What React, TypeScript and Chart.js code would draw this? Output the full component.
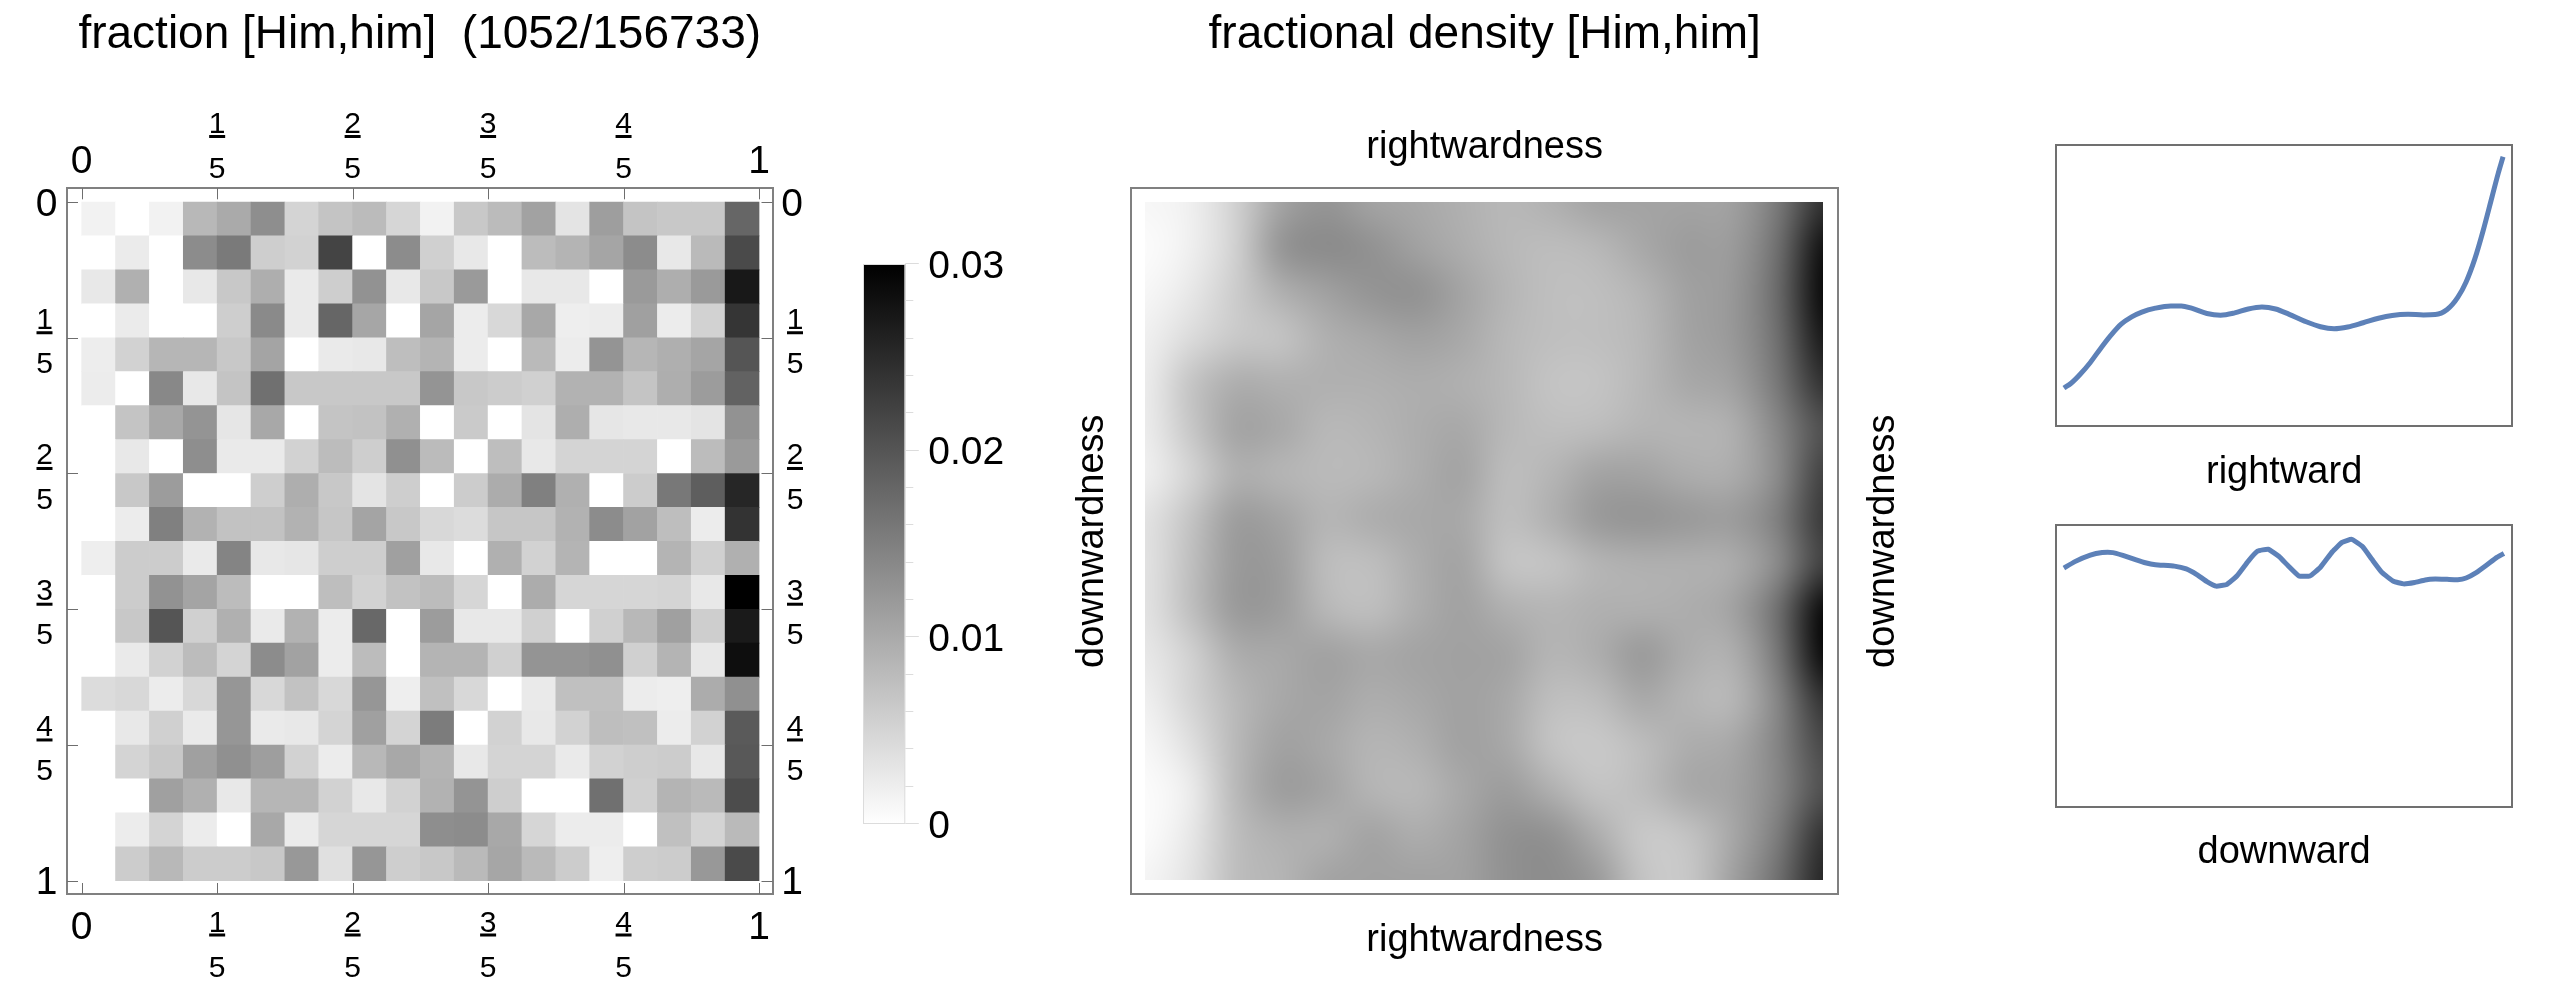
import { useEffect, useRef } from "react";
import { Chart, registerables } from "chart.js";

Chart.register(...registerables);

const FONT = "'Liberation Sans', Arial, sans-serif";

// fraction per cell, in thousandths, row by row from the top
const cellRows = [
  [1.5, 0, 1.5, 8.4, 10, 13.3, 5.1, 6.9, 8, 4.8, 1.5, 6.5, 8, 10.9, 3.2, 11.4, 6.9, 6.5, 6.5, 18],
  [0, 2.4, 0, 13.5, 15.6, 5.8, 5.3, 22, 0, 13.5, 5.5, 2.7, 0, 7.9, 8.8, 10.6, 13.5, 2.7, 8.1, 21.3],
  [2.7, 9.3, 0, 2.7, 6.5, 9.5, 2.5, 5.8, 12.8, 2.7, 6.5, 11.9, 0, 2.7, 2.7, 0, 11.9, 9.5, 11.9, 27.2],
  [0, 2.4, 0, 0, 5.8, 13.8, 2.5, 18, 10.5, 0, 10.6, 2.2, 4.6, 10.2, 2, 2.2, 11.2, 2.2, 5.3, 23.8],
  [2.1, 5.3, 8.6, 8.6, 6.5, 10.7, 0, 2.5, 2.7, 7.6, 8.8, 2.2, 0, 8.1, 2.2, 12.6, 8.6, 9.4, 10.6, 20],
  [2.2, 0, 14, 2.7, 6.9, 16.8, 6.5, 6.5, 6.5, 6.5, 12.6, 6.5, 6, 5.5, 9.1, 9.1, 6.9, 9.5, 11.6, 18.5],
  [0, 6.9, 10.2, 12.6, 2.9, 10.2, 0, 6.9, 7.2, 9.3, 0, 6.2, 0, 3.2, 9.5, 2.9, 2.7, 2.7, 3.2, 12.8],
  [0, 2.7, 0, 13.3, 2.5, 2.5, 5.3, 7.9, 5.8, 13.1, 8, 0, 7.6, 2.7, 5.1, 5.1, 5.1, 0, 7.9, 11.9],
  [0, 6.5, 11.6, 0, 0, 5.8, 9.5, 6.5, 3.2, 5.8, 0, 6, 9.8, 14.9, 9.3, 0, 6, 15.9, 18.9, 25.5],
  [0, 2.2, 14.9, 9.1, 7.2, 7.2, 9.1, 6.7, 10.7, 6.5, 4.6, 4.1, 6.7, 6.7, 9.1, 13.5, 10.9, 7.6, 2.2, 24],
  [2, 6, 6, 2.5, 14.5, 2.7, 2.9, 5.8, 5.8, 11.2, 2.7, 0, 9.3, 5.3, 8.8, 0, 0, 8.8, 5.5, 9.3],
  [0, 6, 12.8, 10.7, 7.9, 0, 0, 7.6, 5.3, 7.2, 7.9, 4.8, 0, 9.8, 4.8, 4.8, 4.8, 5.1, 2.7, 30],
  [0, 6.5, 20, 5.5, 9.3, 2.5, 9.1, 2.2, 17.8, 0, 11.6, 2.7, 2.7, 5.5, 0, 5.5, 8.4, 11.2, 5.8, 26.9],
  [0, 2.5, 5.3, 7.9, 5.1, 13.5, 10.9, 2.2, 7.9, 0, 8.8, 8.8, 5.5, 12.6, 12.6, 13.1, 5.5, 8.8, 2.7, 28.4],
  [4.1, 4.6, 2.2, 4.6, 12.4, 4.6, 7.2, 4.6, 12.4, 2, 7.4, 4.6, 0, 2.5, 7.4, 7.4, 2.2, 2, 9.8, 13.1],
  [0, 2.7, 5.5, 2.5, 12.4, 2.5, 2.7, 5.1, 11.2, 5.1, 15.4, 0, 5.3, 2.7, 5.3, 7.6, 7.4, 2.2, 5.3, 19.4],
  [0, 5.1, 6.5, 11.2, 13.1, 11.4, 5.3, 2.2, 8.4, 10.2, 8.8, 2.7, 5.1, 5.1, 2.5, 5.3, 5.8, 6, 2.7, 19.6],
  [0, 0, 11.2, 9.3, 2.7, 8.6, 8.6, 5.3, 2.7, 5.3, 9.1, 12.6, 5.8, 0, 0, 16.8, 5.5, 8.8, 8.1, 21.1],
  [0, 2.2, 5.1, 2.2, 0, 10.2, 2.4, 4.8, 4.8, 4.8, 13.3, 13.5, 10.2, 4.8, 2.2, 2.2, 0, 7.4, 5.1, 8.1],
  [0, 6, 8.4, 6, 6, 6.5, 12.1, 3.6, 12.4, 5.8, 6.5, 8.1, 10.5, 8.1, 6, 2, 5.8, 6, 12.1, 21.3],
];

const fractionTicks = [0, 0.2, 0.4, 0.6, 0.8, 1];
const fractionLabels = ["0", "1/5", "2/5", "3/5", "4/5", "1"];

const colorbarLabels = ["0", "0.01", "0.02", "0.03"];

// smoothed density, darkness 0-100, sampled on an even 16 x 16 grid
const densityRows = [
  [3, 6, 18, 36, 42, 36, 34, 31, 28, 31, 36, 36, 36, 37, 52, 81],
  [1, 6, 18, 42, 46, 43, 37, 32, 28, 26, 28, 34, 39, 39, 56, 94],
  [3, 9, 20, 31, 37, 42, 43, 36, 29, 25, 25, 29, 37, 40, 58, 97],
  [6, 14, 21, 23, 31, 34, 37, 34, 28, 25, 25, 28, 36, 40, 56, 91],
  [7, 23, 32, 31, 31, 31, 32, 31, 28, 23, 23, 28, 34, 37, 53, 81],
  [7, 22, 36, 34, 28, 29, 32, 34, 28, 25, 26, 29, 29, 31, 47, 69],
  [6, 17, 31, 29, 27, 28, 32, 36, 26, 29, 36, 36, 32, 32, 45, 75],
  [11, 23, 39, 36, 29, 32, 34, 34, 25, 31, 40, 42, 40, 39, 50, 78],
  [11, 25, 40, 39, 26, 25, 32, 36, 23, 23, 29, 31, 31, 32, 45, 75],
  [11, 25, 40, 39, 28, 25, 32, 37, 31, 29, 31, 31, 32, 36, 56, 97],
  [9, 18, 32, 34, 37, 34, 36, 37, 36, 29, 32, 40, 32, 31, 53, 97],
  [6, 17, 28, 34, 36, 32, 34, 37, 34, 25, 26, 34, 29, 28, 47, 81],
  [3, 12, 28, 37, 34, 29, 31, 37, 34, 23, 21, 26, 32, 34, 48, 72],
  [1, 7, 28, 39, 36, 29, 28, 34, 39, 31, 23, 26, 34, 36, 47, 69],
  [1, 9, 26, 31, 31, 36, 32, 36, 43, 43, 32, 21, 23, 34, 51, 81],
  [4, 11, 26, 29, 36, 37, 37, 37, 43, 45, 40, 23, 21, 37, 56, 86],
];

const rightwardX = [
  0, 1.7, 3.7, 6, 8.3, 10.7, 13, 15.4, 17.7, 20.8, 24.3, 26.7, 29, 32.5, 35.6, 38.8, 41.9, 45, 48.1,
  51.2, 54.8, 58.3, 61.4, 64.5, 68, 71.5, 74.6, 78.2, 81.7, 84.4, 87.1, 89.5, 91.4, 93.4, 95.3, 97.3, 98.7, 99.8,
];
const rightwardY = [
  13.5, 15.3, 18.4, 22.6, 27.5, 32.3, 36.2, 38.8, 40.5, 41.9, 42.7, 42.7, 41.9, 40, 39.4, 40.2, 41.6, 42.3, 41.6,
  39.7, 37.2, 35.3, 34.6, 35.2, 36.7, 38.3, 39.3, 39.7, 39.5, 39.6, 41.4, 45.7, 51.2, 59.5, 69.6, 81.5, 89.8, 95.7,
];

const downwardX = [
  0, 2.5, 6, 8.7, 11.1, 13.4, 16.1, 18.5, 20.8, 25.1, 27.8, 30.2, 32.5, 34.6, 37, 39.3, 41.9, 44, 46.4, 48.9, 50.9,
  53.4, 55.9, 58.3, 61, 63.2, 65.4, 67.9, 70, 72.3, 74.9, 77.2, 79.7, 82.1, 84.4, 87.1, 89.5, 91.4, 93.8, 96.1, 98.4, 100,
];
const downwardY = [
  84.7, 87, 89.3, 90.2, 90.2, 89.2, 87.8, 86.6, 85.9, 85.4, 84.4, 82.4, 79.9, 78.3, 78.9, 81.9, 87.2, 90.7, 91.4, 88.8, 85.6,
  81.9, 81.9, 85, 90.5, 93.8, 94.9, 92.3, 87.8, 83.1, 80, 79.1, 79.6, 80.5, 80.8, 80.7, 80.6, 81.2, 83.2, 85.8, 88.5, 89.9,
];

const grayFor = (thousandths: number) => {
  const g = Math.round(255 * (1 - thousandths / 30));
  return `rgb(${g},${g},${g})`;
};

const hiddenAxis = (position: string, min: number, max: number, color: string, reverse = false) => ({
  type: "linear",
  position,
  min,
  max,
  reverse,
  offset: false,
  grid: { display: false, drawTicks: false },
  ticks: { display: false },
  border: { display: true, color, width: 2 },
});

const baseOptions = {
  responsive: false,
  maintainAspectRatio: false,
  devicePixelRatio: 1,
  animation: false,
};

const isFraction = (label: string) => label.includes("/");

// inward tick marks and the stacked fraction labels on all four sides of the histogram
const fractionAxesPlugin = {
  id: "fractionAxes",
  afterDraw(chart: any) {
    const { ctx, chartArea: a, scales } = chart;
    ctx.save();
    ctx.strokeStyle = "#6e6e6e";
    ctx.lineWidth = 1;
    fractionTicks.forEach((t) => {
      const px = Math.round(scales.x.getPixelForValue(t)) + 0.5;
      const py = Math.round(scales.y.getPixelForValue(t)) + 0.5;
      ctx.beginPath();
      ctx.moveTo(px, a.top);
      ctx.lineTo(px, a.top + 11);
      ctx.moveTo(px, a.bottom);
      ctx.lineTo(px, a.bottom - 11);
      ctx.moveTo(a.left, py);
      ctx.lineTo(a.left + 11, py);
      ctx.moveTo(a.right, py);
      ctx.lineTo(a.right - 11, py);
      ctx.stroke();
    });

    ctx.fillStyle = "#000";
    ctx.textAlign = "center";
    ctx.textBaseline = "middle";
    const drawLabel = (label: string, x: number, whole: number, num: number, bar: number, den: number) => {
      const parts = label.split("/");
      if (parts.length === 1) {
        ctx.font = `39px ${FONT}`;
        ctx.fillText(label, x, whole);
        return;
      }
      ctx.font = `30px ${FONT}`;
      ctx.fillText(parts[0], x, num);
      ctx.fillText(parts[1], x, den);
      ctx.fillRect(x - 8, bar - 1.5, 16, 3);
    };
    fractionLabels.forEach((label, i) => {
      const px = scales.x.getPixelForValue(fractionTicks[i]);
      const py = scales.y.getPixelForValue(fractionTicks[i]);
      drawLabel(label, px, 162.5, 124.5, 136.5, 169.5);
      drawLabel(label, px, 928, 923.5, 935, 968.5);
      const lx = isFraction(label) ? 44.5 : 46.5;
      const rx = isFraction(label) ? 795 : 792;
      drawLabel(label, lx, py + 3, py - 17.5, py - 5, py + 27);
      drawLabel(label, rx, py + 3, py - 17.5, py - 5, py + 27);
    });
    ctx.restore();
  },
};

const histogramConfig = () => {
  const cells: any[] = [];
  const colors: string[] = [];
  cellRows.forEach((row, r) =>
    row.forEach((v, c) => {
      cells.push({ x: (c + 0.5) / 20, y: [r / 20, (r + 1) / 20] });
      colors.push(grayFor(v));
    })
  );
  return {
    type: "bar",
    data: {
      datasets: [
        { data: cells, backgroundColor: colors, borderWidth: 0, barPercentage: 1, categoryPercentage: 1 },
      ],
    },
    options: {
      ...baseOptions,
      layout: { padding: { left: 67, right: 77.5, bottom: 106 } },
      plugins: {
        legend: { display: false },
        tooltip: { enabled: false },
        title: {
          display: true,
          fullSize: false,
          text: "fraction [Him,him]  (1052/156733)",
          color: "#000",
          font: { family: FONT, size: 46, weight: "normal", lineHeight: 1.2 },
          padding: { top: 7.4, bottom: 125.7 },
        },
      },
      scales: {
        x: hiddenAxis("bottom", -0.0217, 1.0199, "#808080"),
        x2: hiddenAxis("top", -0.0217, 1.0199, "#808080"),
        y: hiddenAxis("left", -0.0202, 1.0196, "#808080", true),
        y2: hiddenAxis("right", -0.0202, 1.0196, "#808080", true),
      },
    },
    plugins: [fractionAxesPlugin],
  };
};

const colorbarTicksPlugin = {
  id: "colorbarTicks",
  afterDraw(chart: any) {
    const { ctx, chartArea: a, scales } = chart;
    ctx.save();
    ctx.strokeStyle = "#dcdcdc";
    ctx.lineWidth = 1;
    ctx.strokeRect(a.left + 0.5, a.top + 0.5, a.right - a.left - 1, a.bottom - a.top - 1);
    scales.y.ticks.forEach((t: any) => {
      const major = Math.round(t.value * 1000) % 10 === 0;
      const py = Math.round(scales.y.getPixelForValue(t.value)) - 0.5;
      ctx.beginPath();
      ctx.moveTo(a.right, py);
      ctx.lineTo(a.right + (major ? 13.5 : 8), py);
      ctx.stroke();
    });
    ctx.restore();
  },
};

const colorbarConfig = () => ({
  type: "bar",
  data: {
    labels: [""],
    datasets: [
      {
        data: [[0, 0.03]],
        borderWidth: 0,
        barPercentage: 1,
        categoryPercentage: 1,
        backgroundColor: (c: any) => {
          const { chart } = c;
          const y = chart.scales.y;
          if (!y || !chart.chartArea) return "#888";
          const p0 = y.getPixelForValue(0);
          const p1 = y.getPixelForValue(0.03);
          if (!Number.isFinite(p0) || !Number.isFinite(p1)) return "#888";
          const g = chart.ctx.createLinearGradient(0, p0, 0, p1);
          g.addColorStop(0, "#ffffff");
          g.addColorStop(1, "#000000");
          return g;
        },
      },
    ],
  },
  options: {
    ...baseOptions,
    layout: { padding: { left: 13, top: 64, bottom: 76 } },
    plugins: { legend: { display: false }, tooltip: { enabled: false } },
    scales: {
      x: { display: false },
      y: {
        position: "right",
        min: 0,
        max: 0.03,
        afterFit: (s: any) => {
          s.width = 144.7;
        },
        grid: { display: false, drawTicks: false },
        border: { display: false },
        ticks: {
          stepSize: 0.002,
          autoSkip: false,
          padding: 23,
          labelOffset: 3,
          color: "#000",
          font: { family: FONT, size: 39 },
          callback: (v: number) => {
            const k = Math.round(v * 1000);
            return k % 10 === 0 ? colorbarLabels[k / 10] : "";
          },
        },
      },
    },
  },
  plugins: [colorbarTicksPlugin],
});

// paints the sampled density smoothly between the scale positions 0 and 1
const densityPlugin = {
  id: "densityImage",
  beforeDatasetsDraw(chart: any) {
    const { ctx, scales } = chart;
    const rows = densityRows.length;
    const cols = densityRows[0].length;
    const off = document.createElement("canvas");
    off.width = cols;
    off.height = rows;
    const offCtx = off.getContext("2d")!;
    const img = offCtx.createImageData(cols, rows);
    densityRows.forEach((row, r) =>
      row.forEach((d, c) => {
        const g = Math.round(255 * (1 - d / 100));
        const i = (r * cols + c) * 4;
        img.data[i] = img.data[i + 1] = img.data[i + 2] = g;
        img.data[i + 3] = 255;
      })
    );
    offCtx.putImageData(img, 0, 0);
    const x0 = scales.x.getPixelForValue(0);
    const x1 = scales.x.getPixelForValue(1);
    const y0 = scales.y.getPixelForValue(0);
    const y1 = scales.y.getPixelForValue(1);
    ctx.save();
    ctx.imageSmoothingEnabled = true;
    ctx.imageSmoothingQuality = "high";
    ctx.drawImage(off, 0.5, 0.5, cols - 1, rows - 1, x0, y0, x1 - x0, y1 - y0);
    ctx.restore();

    // right-hand label reads bottom to top, which the axis title cannot do
    ctx.save();
    ctx.translate(834, (chart.chartArea.top + chart.chartArea.bottom) / 2);
    ctx.rotate(-Math.PI / 2);
    ctx.font = `38px ${FONT}`;
    ctx.fillStyle = "#000";
    ctx.textAlign = "center";
    ctx.textBaseline = "middle";
    ctx.fillText("downwardness", 0, 0);
    ctx.restore();
  },
};

const axisTitle = (text: string, top: number, bottom: number) => ({
  display: true,
  text,
  color: "#000",
  font: { family: FONT, size: 38, lineHeight: 1.2 },
  padding: { top, bottom },
});

const densityConfig = () => ({
  type: "scatter",
  data: { datasets: [{ data: [], pointRadius: 0 }] },
  options: {
    ...baseOptions,
    layout: { padding: { right: 162, bottom: 36.5 } },
    plugins: {
      legend: { display: false },
      tooltip: { enabled: false },
      title: {
        display: true,
        fullSize: false,
        text: "fractional density [Him,him]",
        color: "#000",
        font: { family: FONT, size: 46, weight: "normal", lineHeight: 1.2 },
        padding: { top: 7.4, bottom: 59.6 },
      },
    },
    scales: {
      x: { ...hiddenAxis("bottom", -0.0207, 1.0222, "#808080"), title: axisTitle("rightwardness", 23.9, 0) },
      x2: { ...hiddenAxis("top", -0.0207, 1.0222, "#808080"), title: axisTitle("rightwardness", 3, 17.5) },
      y: {
        ...hiddenAxis("left", -0.0209, 1.0203, "#808080", true),
        title: axisTitle("downwardness", 20.2, 15.5),
      },
      y2: hiddenAxis("right", -0.0209, 1.0203, "#808080", true),
    },
  },
  plugins: [densityPlugin],
});

const lineConfig = (
  xs: number[],
  ys: number[],
  label: string,
  padding: any,
  titleTop: number,
  titleBottom: number,
  curve: any
) => ({
  type: "line",
  data: {
    datasets: [
      {
        data: xs.map((x, i) => ({ x, y: ys[i] })),
        borderColor: "#5d81b8",
        borderWidth: 5,
        pointRadius: 0,
        ...curve,
      },
    ],
  },
  options: {
    ...baseOptions,
    layout: { padding },
    plugins: { legend: { display: false }, tooltip: { enabled: false } },
    scales: {
      x: { ...hiddenAxis("bottom", -1.8, 101.9, "#707070"), title: axisTitle(label, titleTop, titleBottom) },
      x2: hiddenAxis("top", -1.8, 101.9, "#707070"),
      y: hiddenAxis("left", 0, 100, "#707070"),
      y2: hiddenAxis("right", 0, 100, "#707070"),
    },
  },
});

const ChartCanvas = ({ build, left, top, width, height }: any) => {
  const canvasRef = useRef<HTMLCanvasElement | null>(null);

  useEffect(() => {
    if (!canvasRef.current) return;
    const chart = new Chart(canvasRef.current, build());
    return () => chart.destroy();
  }, [build]);

  return (
    <canvas
      ref={canvasRef}
      width={width}
      height={height}
      style={{ position: "absolute", left, top, width, height, display: "block" }}
    />
  );
};

const buildRightward = () =>
  lineConfig(rightwardX, rightwardY, "rightward", { left: 36, right: 45.7, top: 44.7 }, 23.5, 4.9, {
    cubicInterpolationMode: "monotone",
  });
const buildDownward = () =>
  lineConfig(downwardX, downwardY, "downward", { left: 36, right: 45.7, top: 45 }, 23, 4.7, { tension: 0.12 });

export default function App() {
  return (
    <div style={{ position: "absolute", left: 0, top: 0, width: 2558, height: 1000, overflow: "hidden", background: "#fff" }}>
      <ChartCanvas build={histogramConfig} left={0} top={0} width={850} height={1000} />
      <ChartCanvas build={colorbarConfig} left={850} top={200} width={200} height={700} />
      <ChartCanvas build={densityConfig} left={1050} top={0} width={950} height={1000} />
      <ChartCanvas build={buildRightward} left={2020} top={100} width={538} height={400} />
      <ChartCanvas build={buildDownward} left={2020} top={480} width={538} height={400} />
    </div>
  );
}
